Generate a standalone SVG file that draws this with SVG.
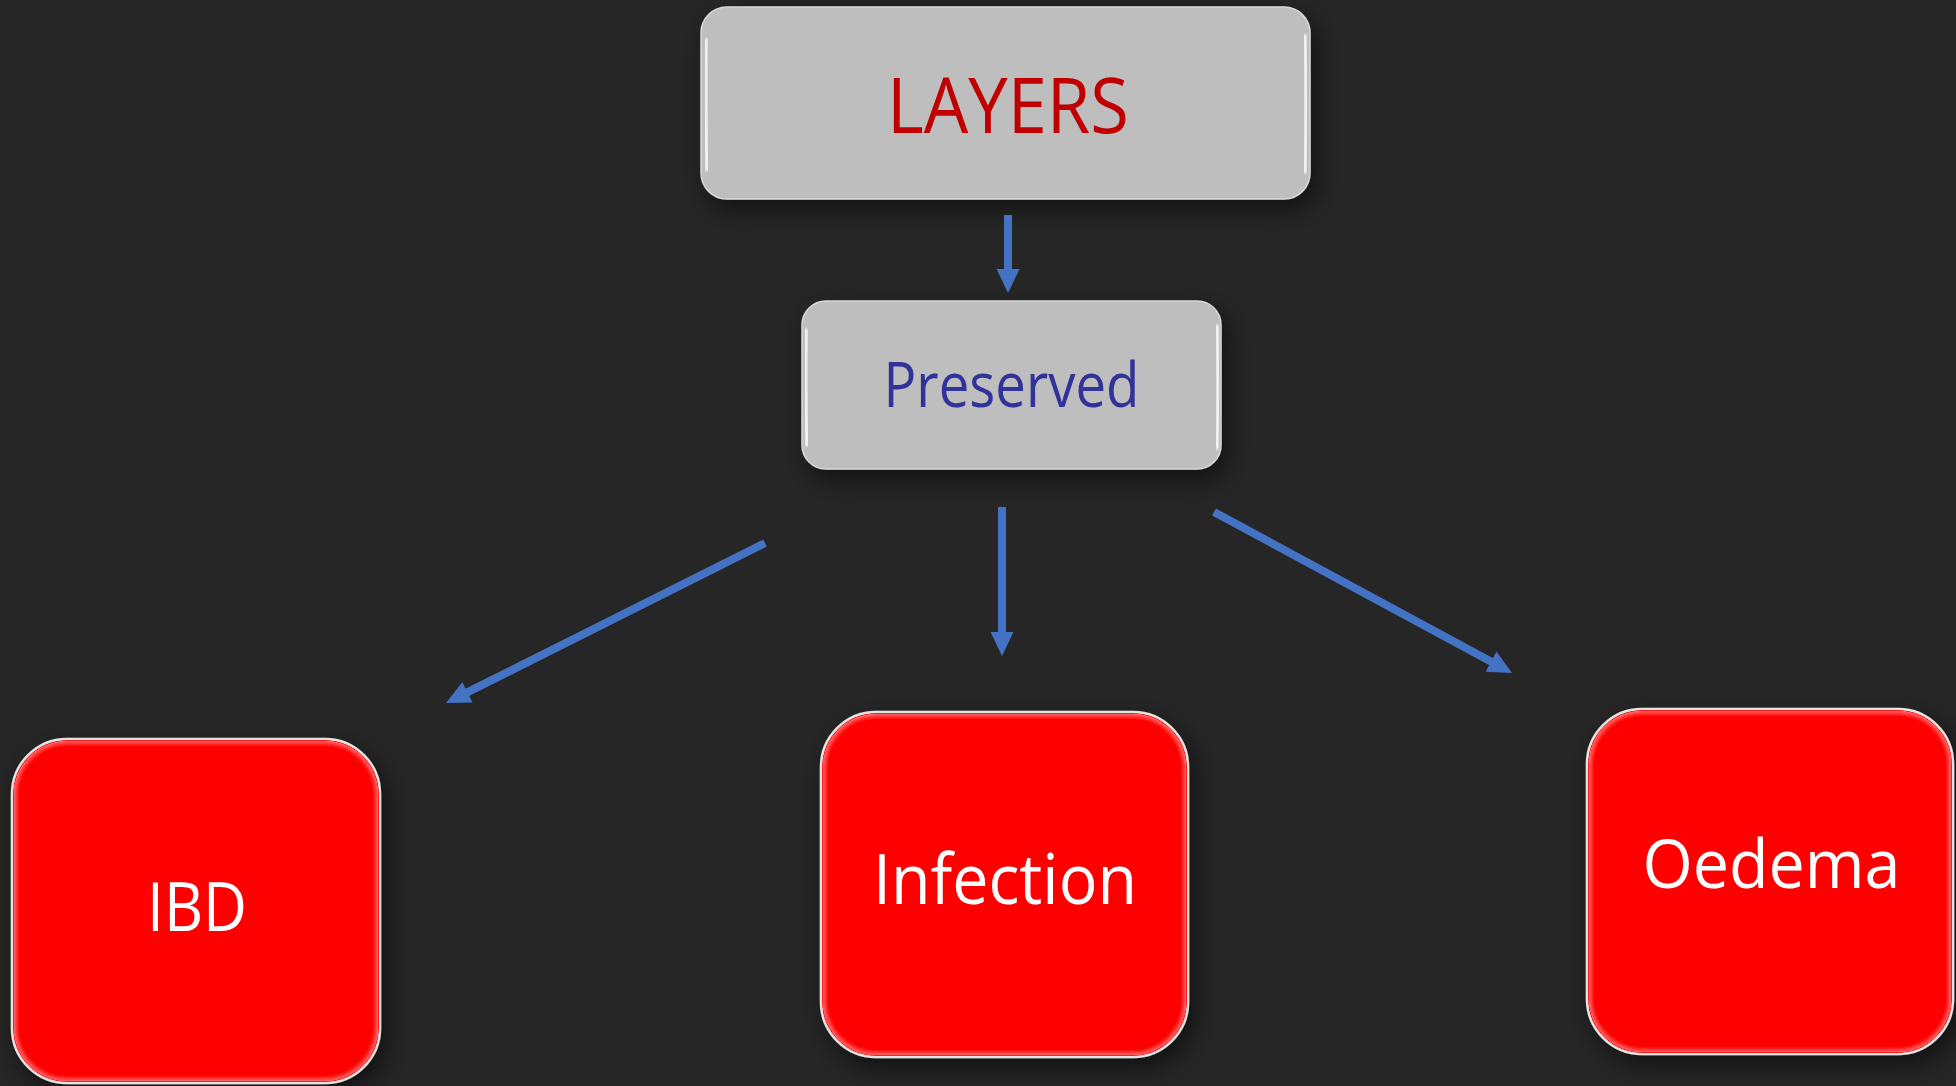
<svg xmlns="http://www.w3.org/2000/svg" width="1956" height="1086" viewBox="0 0 1956 1086">
  <defs>
    <style>
      .label { font-family: "Open Sans", "Liberation Sans", sans-serif; text-anchor: middle; }
      .grey { fill: #BEBEBE; stroke: #D8D8D8; stroke-width: 1.5; }
      .red { fill: #FF0000; stroke: #E4E4E4; stroke-width: 2.5; }
      .conn { stroke: #4472C4; stroke-width: 8; fill: none; stroke-linecap: butt; }
      .shine { stroke: #FFFFFF; stroke-width: 3.5; fill: none; stroke-linecap: round; opacity: 0.95; }
    </style>
    <filter id="shadow" x="-20%" y="-20%" width="150%" height="160%">
      <feDropShadow dx="6" dy="10" stdDeviation="12" flood-color="#000000" flood-opacity="0.55"/>
    </filter>
    <filter id="innerGlow" x="-5%" y="-5%" width="110%" height="110%">
      <feGaussianBlur in="SourceAlpha" stdDeviation="2.5" result="blur"/>
      <feComposite in="SourceAlpha" in2="blur" operator="arithmetic" k2="1" k3="-1" result="edge"/>
      <feFlood flood-color="#FFFFFF" flood-opacity="0.3"/>
      <feComposite in2="edge" operator="in" result="glow"/>
      <feMerge>
        <feMergeNode in="SourceGraphic"/>
        <feMergeNode in="glow"/>
      </feMerge>
    </filter>
    <filter id="soft" x="-50%" y="-10%" width="200%" height="120%">
      <feGaussianBlur stdDeviation="0.8"/>
    </filter>
    <marker id="head" markerUnits="userSpaceOnUse" markerWidth="24" markerHeight="23" refX="2" refY="11.5" orient="auto">
      <path d="M0,0 L24,11.5 L0,23 Z" fill="#4472C4"/>
    </marker>
  </defs>

  <!-- backdrop -->
  <rect x="0" y="0" width="1956" height="1086" fill="#262626"/>

  <!-- top node -->
  <g id="node-layers">
    <rect class="grey" x="701" y="7" width="609" height="192" rx="26" filter="url(#shadow)"/>
    <path class="shine" d="M706,40 Q705,100 707,170" filter="url(#soft)"/>
    <path class="shine" d="M1305,36 Q1307,100 1305,172" filter="url(#soft)"/>
    <text class="label" x="1008" y="133" font-size="77" fill="#C00000" textLength="242" lengthAdjust="spacingAndGlyphs">LAYERS</text>
  </g>

  <!-- middle node -->
  <g id="node-preserved">
    <rect class="grey" x="802" y="301" width="419" height="168" rx="24" filter="url(#shadow)"/>
    <path class="shine" d="M806,330 Q805,390 807,445" filter="url(#soft)"/>
    <path class="shine" d="M1217,326 Q1219,390 1217,448" filter="url(#soft)"/>
    <text class="label" x="1011.5" y="407" font-size="62" fill="#31339A" textLength="256" lengthAdjust="spacingAndGlyphs">Preserved</text>
  </g>

  <!-- bottom nodes -->
  <g id="node-ibd">
    <rect class="red" x="12" y="739" width="368" height="344" rx="55" filter="url(#shadow)"/>
    <rect x="13.5" y="740.5" width="365" height="341" rx="54" fill="#FF0000" filter="url(#innerGlow)"/>
    <text class="label" x="197" y="931" font-size="67" fill="#FFFFFF" textLength="100" lengthAdjust="spacingAndGlyphs">IBD</text>
  </g>

  <g id="node-infection">
    <rect class="red" x="821" y="712" width="367" height="345" rx="55" filter="url(#shadow)"/>
    <rect x="822.5" y="713.5" width="364" height="342" rx="54" fill="#FF0000" filter="url(#innerGlow)"/>
    <text class="label" x="1005" y="904" font-size="69" fill="#FFFFFF" textLength="264" lengthAdjust="spacingAndGlyphs">Infection</text>
  </g>

  <g id="node-oedema">
    <rect class="red" x="1587" y="709" width="366" height="345" rx="55" filter="url(#shadow)"/>
    <rect x="1588.5" y="710.5" width="363" height="342" rx="54" fill="#FF0000" filter="url(#innerGlow)"/>
    <text class="label" x="1771.5" y="888" font-size="67" fill="#FFFFFF" textLength="258" lengthAdjust="spacingAndGlyphs">Oedema</text>
  </g>

  <!-- connectors -->
  <g id="connectors">
    <line class="conn" x1="1008" y1="215" x2="1008" y2="271" marker-end="url(#head)"/>
    <line class="conn" x1="1002" y1="507" x2="1002" y2="634" marker-end="url(#head)"/>
    <line class="conn" x1="765" y1="543" x2="465.7" y2="693.2" marker-end="url(#head)"/>
    <line class="conn" x1="1214" y1="512" x2="1492.7" y2="662.5" marker-end="url(#head)"/>
  </g>
</svg>
